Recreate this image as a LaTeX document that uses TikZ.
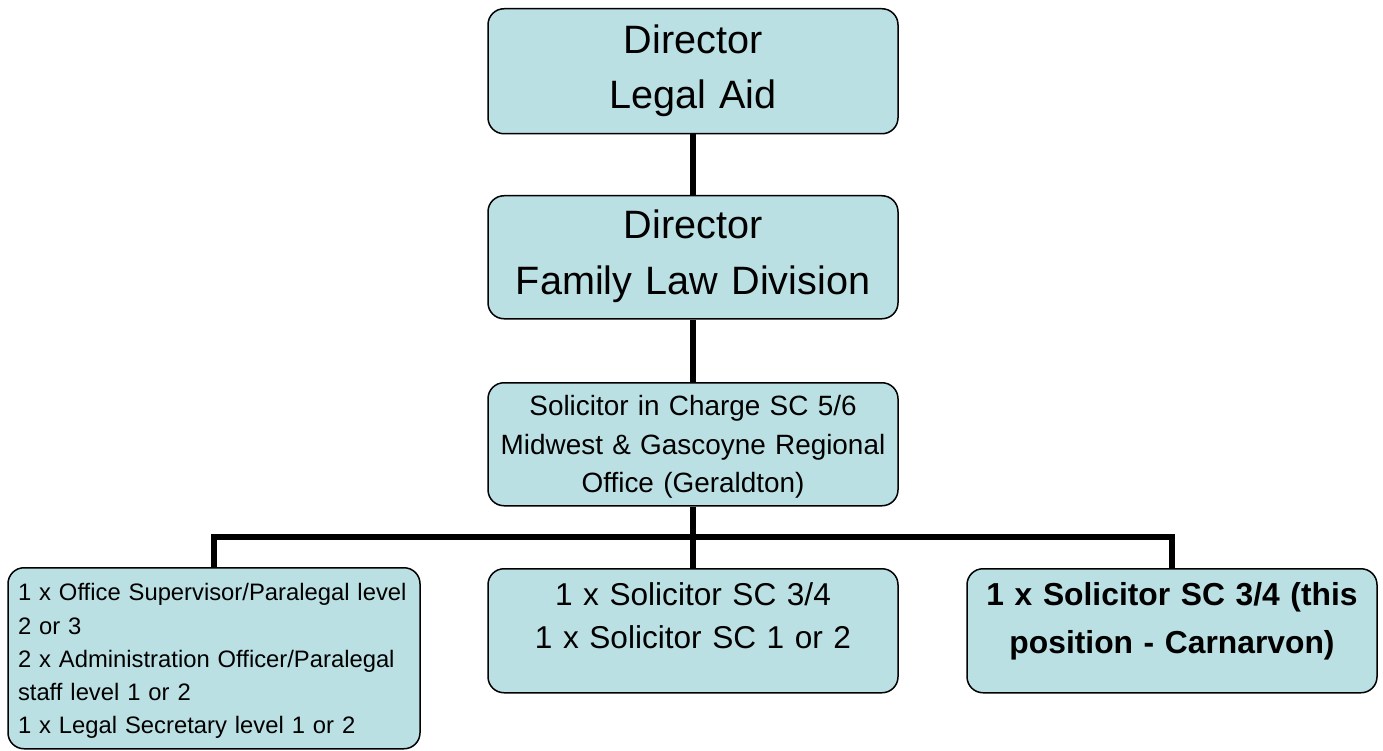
\documentclass[tikz,border=0pt]{standalone}
\usepackage{fontspec}
\setmainfont{Liberation Sans}
\definecolor{boxblue}{RGB}{187,224,227}

\begin{document}
\begin{tikzpicture}[x=1pt,y=-1pt,
		post/.style={draw,fill=boxblue,line width=1.5pt,rounded corners=16pt,anchor=north,inner sep=0pt,align=center,text width=410pt},
		link/.style={line width=5.5pt}]
				\fill [white](0,0)rectangle(1383,751);
				\useasboundingbox (0,0)rectangle(1383,751);
				\node [post,text height=45pt,text depth=80pt,font=\fontsize{39.6}{55}\selectfont] (dla) at (693,8){Director\\Legal Aid};
				\node [post,text height=43pt,text depth=80pt,font=\fontsize{39.6}{56}\selectfont] (dfl) at (693,195){Director\\Family Law Division};
				\node [post,text height=33pt,text depth=90pt,font=\fontsize{27.9}{38.5}\selectfont] (sic) at (693,382){Solicitor in Charge SC 5/6\\Midwest \& Gascoyne Regional\\Office (Geraldton)};
				\node [post,align=left,inner xsep=10pt,text width=392pt,text height=33pt,text depth=148pt,font=\fontsize{23.8}{33.3}\selectfont] (off) at (214,567){1 x Office Supervisor/Paralegal level\\2 or 3\\2 x Administration Officer/Paralegal\\staff level 1 or 2\\1 x Legal Secretary level 1 or 2};
				\node [post,text height=37pt,text depth=87pt,font=\fontsize{31.6}{43}\selectfont] (sol) at (693,568){1 x Solicitor SC 3/4\\1 x Solicitor SC 1 or 2};
				\node [post,text height=37pt,text depth=87pt,font=\fontsize{31.8}{48}\selectfont\bfseries] (pos) at (1172,568){1 x Solicitor SC 3/4 (this\\position - Carnarvon)};
				\coordinate (bus) at (693,537);
				\draw [link](dla)--(dfl);
				\draw [link](dfl)--(sic);
				\draw [link](sic)--(sol);
				\draw [link](off.north)|-(bus)-|(pos.north);
			\end{tikzpicture}
\end{document}
